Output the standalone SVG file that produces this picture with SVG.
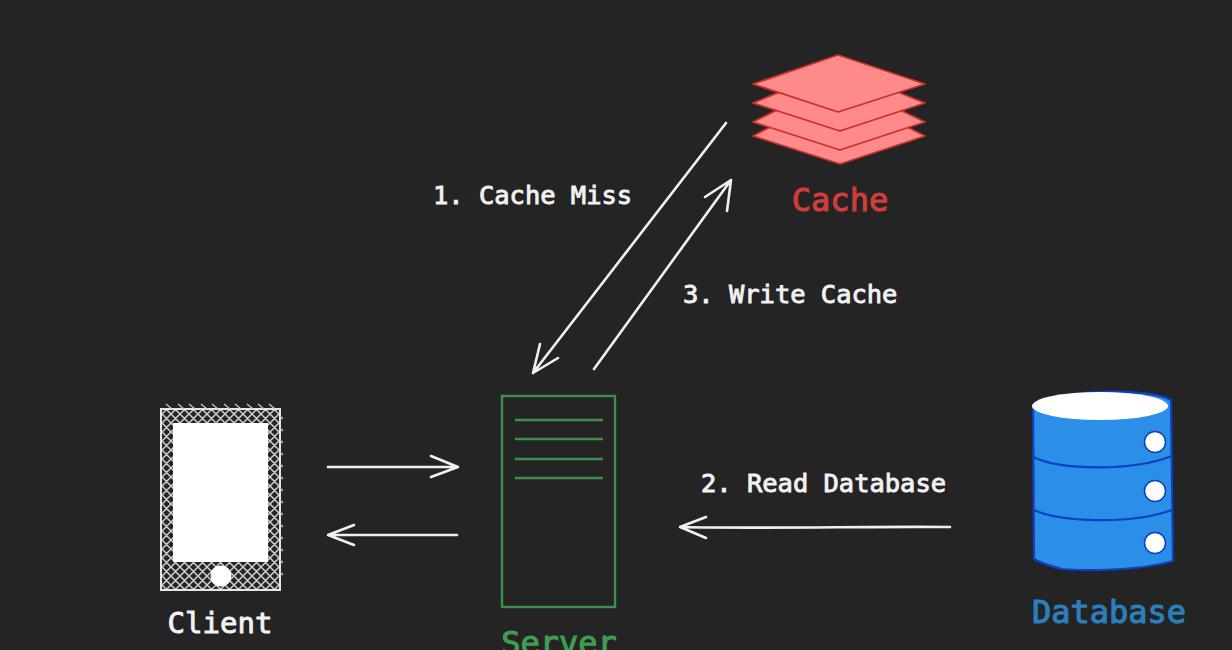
<svg xmlns="http://www.w3.org/2000/svg" width="1232" height="650" viewBox="0 0 1232 650">
<style>
text{font-family:"DejaVu Sans Mono","Liberation Mono",monospace}
.lbl{fill:#f2f2f2;stroke:#f2f2f2;stroke-width:.9;font-size:25.45px}
.name{font-size:32px;stroke-width:1.1}
.conn{fill:none;stroke:#f0f0f0;stroke-width:2.6;stroke-linecap:round;stroke-linejoin:round}
.layer{fill:#ff8a8a;stroke:#c9302f;stroke-width:1.8;stroke-linejoin:round}
.srv{fill:none;stroke:#3c8f4d;stroke-width:2.4}
.dbl{fill:none;stroke:#0f3fc0;stroke-width:2.2}
.knob{fill:#fff;stroke:#0f3fc0;stroke-width:1.5}
.tick{fill:none;stroke:#c8c8c8;stroke-width:1.3}
</style>
<defs>
<pattern id="hatch" width="9" height="9" patternUnits="userSpaceOnUse">
<rect width="9" height="9" fill="#262626"/>
<path d="M-1 1L1 -1M0 9L9 0M8 10L10 8M-1 8L1 10M0 0L9 9M8 -1L10 1" stroke="#cfcfcf" stroke-width="1.5"/>
</pattern>
</defs>
<rect width="1232" height="650" fill="#242424"/>
<g id="connectors">
<path class="conn" d="M328 467H457M431 456L458 467L431 477"/>
<path class="conn" d="M457 535H328M354 525L328 535L354 545"/>
<path class="conn" d="M950 527C870 526 770 529 680 527M706 517L680 527L706 538"/>
<path class="conn" d="M726 123L533 373M540 344L533 373L558 358"/>
<path class="conn" d="M594 369L731 180M705 197L731 180L727 211"/>
</g>
<g id="client">
<rect x="161" y="409" width="119" height="181" fill="url(#hatch)" stroke="#e6e6e6" stroke-width="2"/>
<path class="tick" d="M166 404l6 5M178 404l6 5M189 404l6 5M201 404l6 5M212 404l6 5M224 404l6 5M235 404l6 5M247 404l6 5M258 404l6 5M269 404l6 5M280 416l3 3M280 428l3 3M280 440l3 3M280 452l3 3M280 464l3 3M280 476l3 3M280 488l3 3M280 500l3 3M280 512l3 3M280 524l3 3M280 536l3 3M280 548l3 3M280 560l3 3M280 572l3 3"/>
<rect x="173" y="423" width="95" height="139" fill="#fff"/>
<circle cx="221" cy="576" r="10.5" fill="#fff"/>
<text class="lbl" x="220" y="633" text-anchor="middle" style="font-size:29px">Client</text>
</g>
<g id="server">
<rect class="srv" x="502" y="396" width="113" height="211"/>
<path class="srv" d="M515 420H603M515 439H603M515 459H603M515 478H603"/>
<text class="name" x="559" y="654" text-anchor="middle" fill="#3f9c50" stroke="#3f9c50">Server</text>
</g>
<g id="cache">
<polygon class="layer" points="753,136 838,92 925,136 840,164"/>
<polygon class="layer" points="753,122 838,80 925,122 840,150"/>
<polygon class="layer" points="753,103 838,68 925,103 840,131"/>
<polygon class="layer" points="753,84 838,55 925,84 838,112"/>
<text class="name" x="840" y="211" text-anchor="middle" fill="#d13c3c" stroke="#d13c3c">Cache</text>
</g>
<g id="database">
<path d="M1033 406C1060 388 1150 388 1171 400L1173 561C1140 571 1080 571 1062 569C1050 566 1040 563 1034 559Z" fill="#2b8fe8" stroke="#0f3fc0" stroke-width="2.2"/>
<ellipse cx="1100" cy="406" rx="68" ry="14" fill="#fff"/>
<path class="dbl" d="M1033 457C1060 470 1130 472 1172 456M1034 510C1060 522 1130 525 1172 510"/>
<circle class="knob" cx="1155" cy="442" r="10.5"/>
<circle class="knob" cx="1155" cy="491" r="10.5"/>
<circle class="knob" cx="1155" cy="543" r="10.5"/>
<text class="name" x="1109" y="623" text-anchor="middle" fill="#2a7fbd" stroke="#2a7fbd">Database</text>
</g>
<text class="lbl" x="433" y="204">1. Cache Miss</text>
<text class="lbl" x="683" y="303">3. Write Cache</text>
<text class="lbl" x="701" y="492">2. Read Database</text>
</svg>
